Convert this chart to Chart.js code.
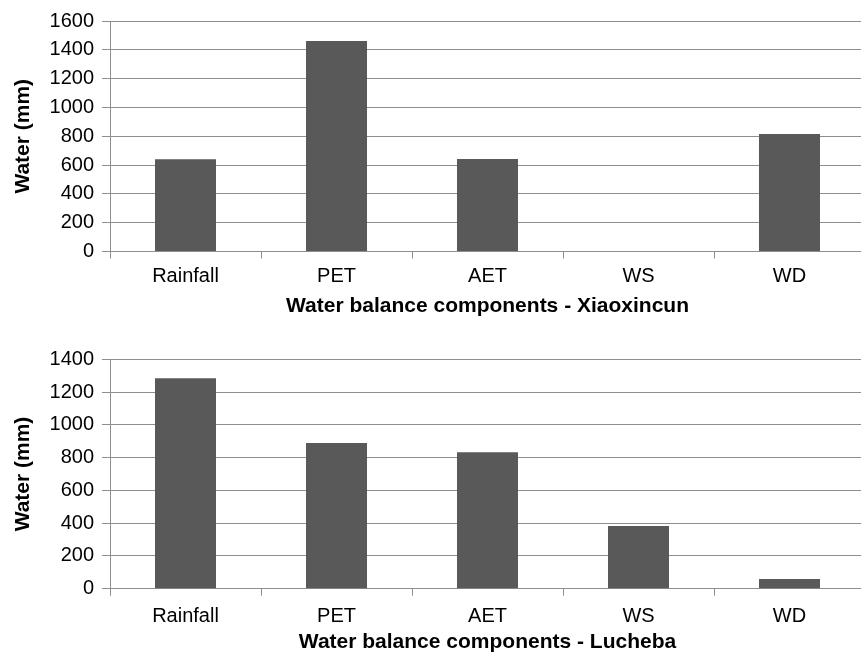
<!DOCTYPE html>
<html>
<head>
<meta charset="utf-8">
<script src="https://cdn.jsdelivr.net/npm/chart.js@4.4.1/dist/chart.umd.min.js"></script>
<style>
  html, body { margin: 0; padding: 0; background: #fff; overflow: hidden; width: 861px; height: 657px; }
  .box { position: absolute; left: 0; width: 870px; }
  #top { top: 0; height: 330px; }
  #bottom { top: 330px; height: 327px; }
</style>
</head>
<body>
<div class="box" id="top"><canvas id="chartTop"></canvas></div>
<div class="box" id="bottom"><canvas id="chartBottom"></canvas></div>
<script>
// water balance components (mm)
const categories = ['Rainfall', 'PET', 'AET', 'WS', 'WD'];
const xiaoxincun = [640, 1462, 642, 0, 816];
const lucheba = [1284, 889, 833, 383, 59];
const xiaoxincunTicks = [0, 200, 400, 600, 800, 1000, 1200, 1400, 1600];
const luchebaTicks = [0, 200, 400, 600, 800, 1000, 1200, 1400];

const gridGray = '#8e8e8e';
const barGray = '#595959';
const family = '"Liberation Sans", Arial, sans-serif';

function makeChart(id, values, ticks, site, opts) {
  const ctx = document.getElementById(id).getContext('2d');
  return new Chart(ctx, {
    type: 'bar',
    data: {
      labels: categories,
      datasets: [{
        data: values,
        backgroundColor: barGray,
        borderWidth: 0,
        categoryPercentage: 1,
        barPercentage: 0.404
      }]
    },
    options: {
      responsive: true,
      maintainAspectRatio: false,
      animation: false,
      layout: { padding: { top: opts.padTop, left: 0, right: 5, bottom: 0 } },
      plugins: { legend: { display: false }, tooltip: { enabled: false } },
      scales: {
        x: {
          grid: { display: true, drawOnChartArea: false, drawTicks: true, tickLength: 7, offset: true, color: gridGray, lineWidth: 1 },
          border: { display: true, color: gridGray, width: 1 },
          ticks: { color: '#000', padding: opts.xTickPad, font: { family: family, size: 20, lineHeight: 1 } },
          title: {
            display: true,
            text: 'Water balance components - ' + site,
            color: '#000',
            padding: { top: 0, bottom: opts.titlePad },
            font: { family: family, size: 21, weight: 'bold', lineHeight: 1 }
          },
          afterFit: (s) => { s.height = opts.xHeight; }
        },
        y: {
          min: 0,
          max: ticks[ticks.length - 1],
          afterBuildTicks: (s) => { s.ticks = ticks.map(v => ({ value: v })); },
          grid: { color: gridGray, lineWidth: 1, tickLength: 8, drawTicks: true },
          border: { display: true, color: gridGray, width: 1 },
          ticks: {
            color: '#000',
            padding: 8,
            font: { family: family, size: 20 },
            callback: (v) => String(v)
          },
          title: {
            display: true,
            text: 'Water (mm)',
            color: '#000',
            padding: { top: 12.5, bottom: 0 },
            font: { family: family, size: 21, weight: 'bold', lineHeight: 1 }
          },
          afterFit: (s) => { s.width = 110; }
        }
      }
    }
  });
}

makeChart('chartTop', xiaoxincun, xiaoxincunTicks, 'Xiaoxincun', { padTop: 21, xHeight: 78.5, xTickPad: 8, titlePad: 13.5 });
makeChart('chartBottom', lucheba, luchebaTicks, 'Lucheba', { padTop: 29.3, xHeight: 68.3, xTickPad: 10.3, titlePad: 4.5 });
</script>
</body>
</html>
